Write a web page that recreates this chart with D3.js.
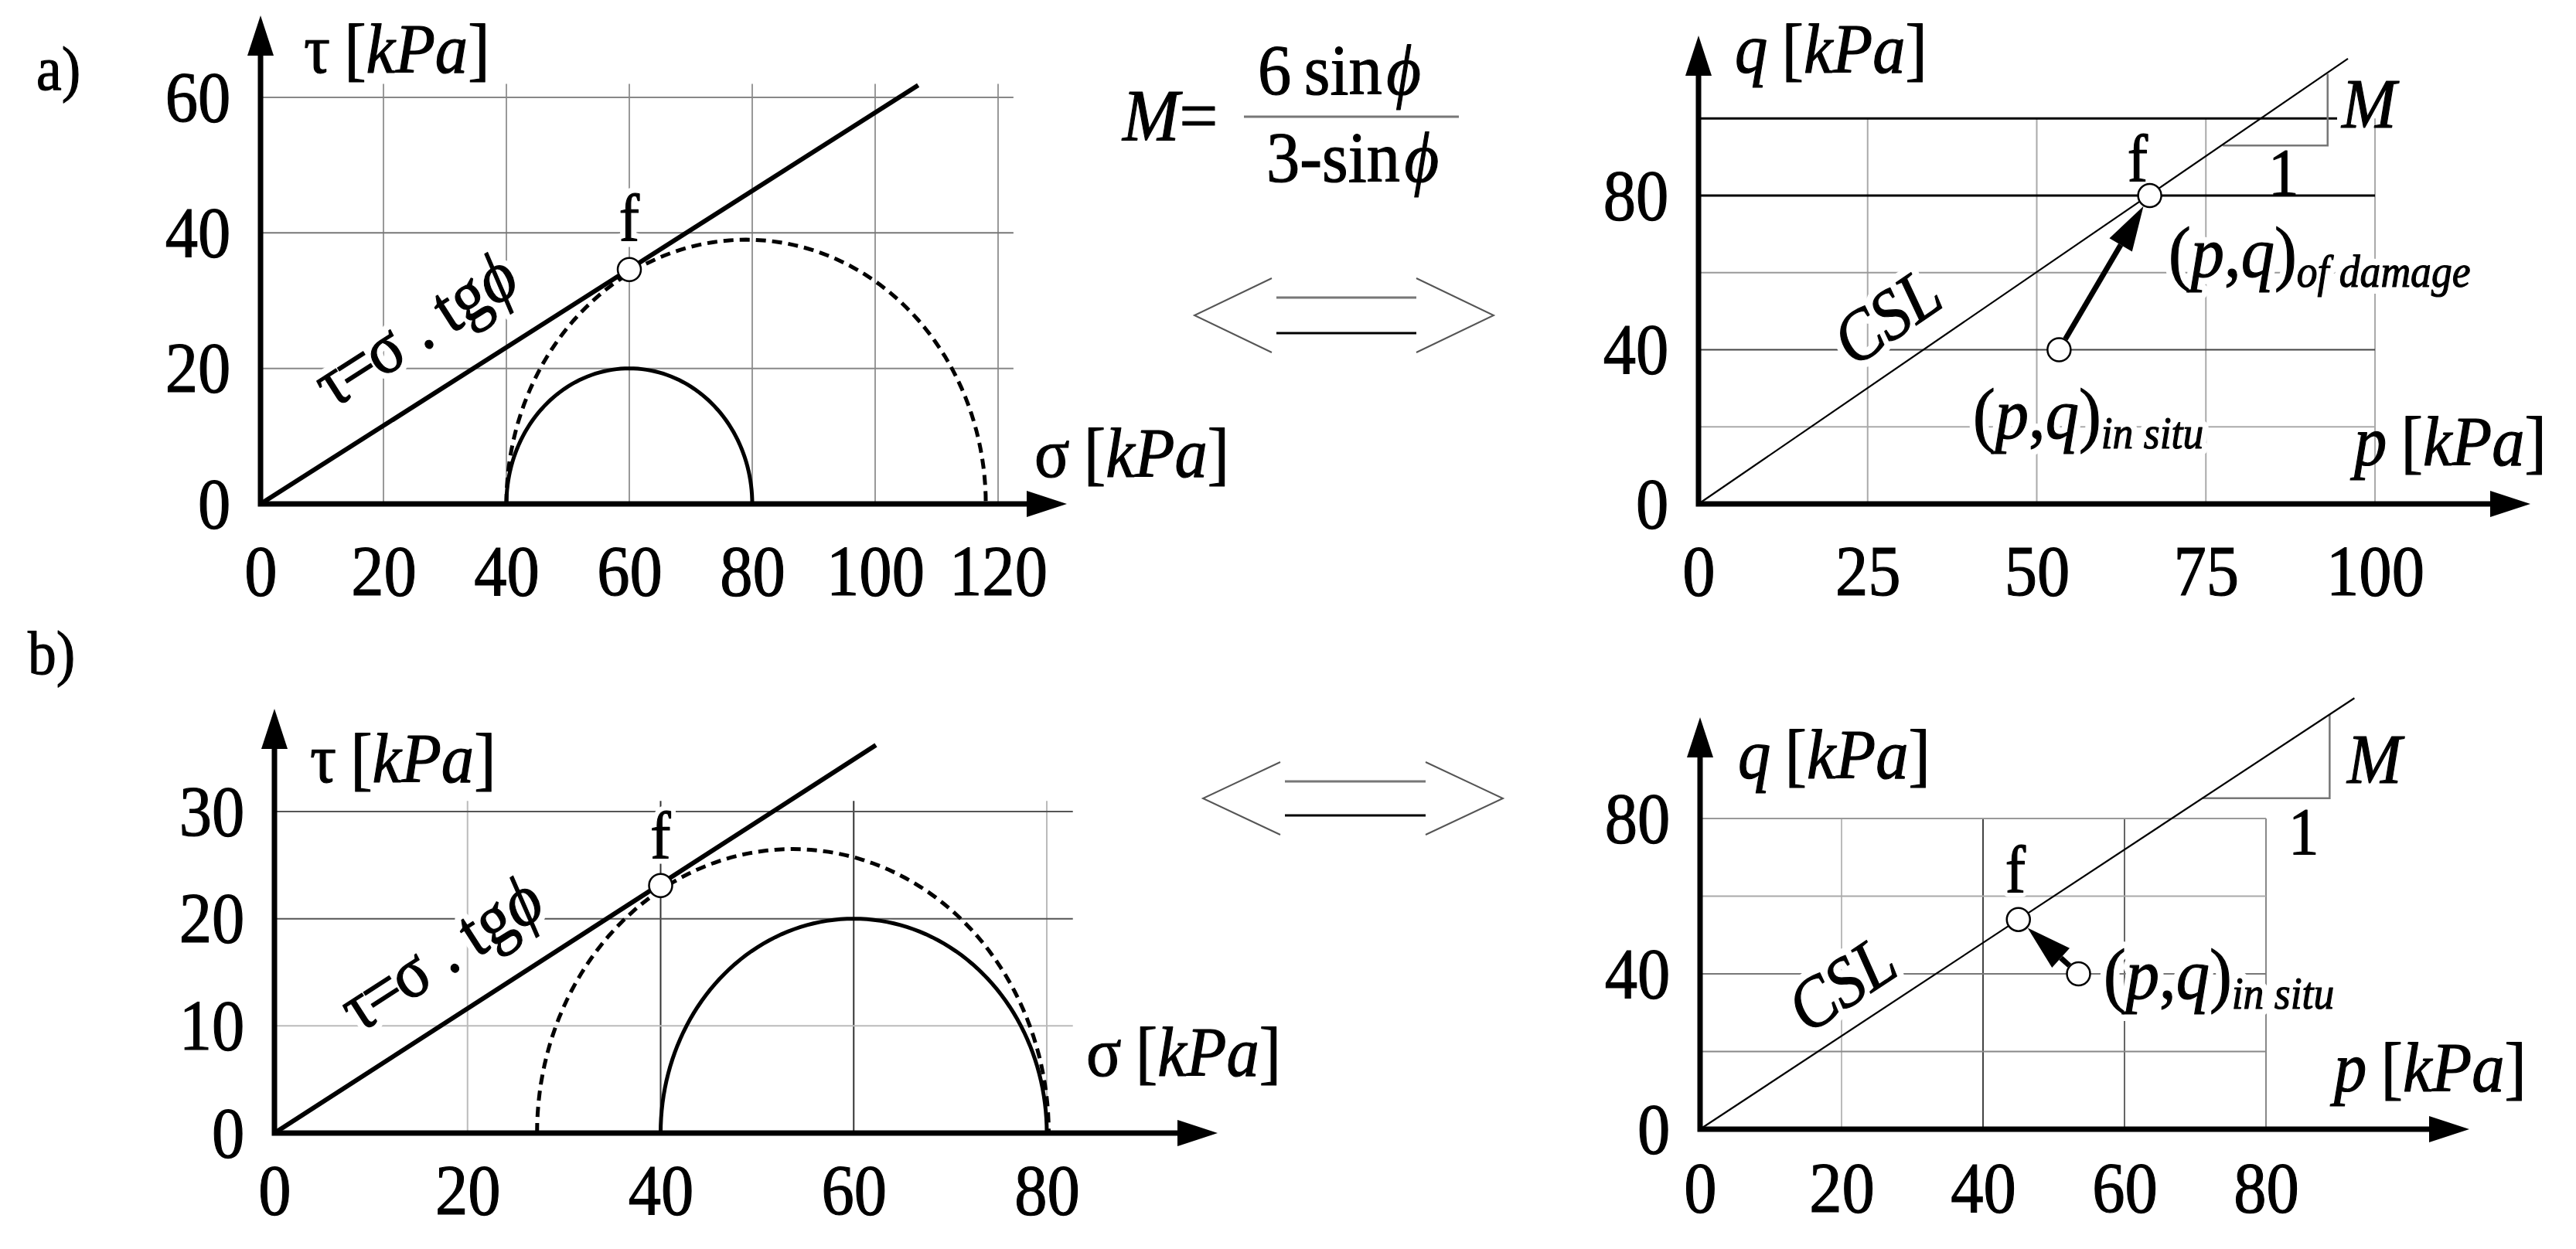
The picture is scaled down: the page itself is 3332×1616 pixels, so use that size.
<!DOCTYPE html>
<html>
<head>
<meta charset="utf-8">
<script src="https://cdn.jsdelivr.net/npm/d3@7"></script>
<style>
  body { margin: 0; background: #fff; }
  svg { display: block; font-family: "Liberation Serif", "Times New Roman", serif; }
</style>
</head>
<body>
<script>
const width = 3332;
const height = 1616;
const serif = "Liberation Serif";

// ---- a) Mohr plane
const sigmaTicksA = [0, 20, 40, 60, 80, 100, 120];
const tauTicksA = [0, 20, 40, 60];
const sigmaGridA = [20, 40, 60, 80, 100, 120];
const tauGridA = [20, 40, 60];
const envelopeA = [[0, 0], [107, 61.8]];
const circlesA = [
  { s3: 40, s1: 80, dashed: false },
  { s3: 40, s1: 118, dashed: true },
];
const failA = [60, 34.6];

// ---- a) p-q plane
const pTicksA = [0, 25, 50, 75, 100];
const qTicksA = [0, 40, 80];
const pGridA = [25, 50, 75, 100];
const qGridA = [20, 40, 60, 80, 100];
const cslA = [[0, 0], [96, 115.5]];
const pathA = [[53.3, 40], [66.7, 80]]; // in situ -> damage
const triA = [[77.5, 93], [93, 93], [93, 111.6]];

// ---- b) Mohr plane
const sigmaTicksB = [0, 20, 40, 60, 80];
const tauTicksB = [0, 10, 20, 30];
const sigmaGridB = [20, 40, 60, 80];
const tauGridB = [10, 20, 30];
const envelopeB = [[0, 0], [62.3, 36.2]];
const circlesB = [
  { s3: 40, s1: 80, dashed: false },
  { s3: 27.2, s1: 80.2, dashed: true },
];
const failB = [40, 23.1];

// ---- b) p-q plane
const pTicksB = [0, 20, 40, 60, 80];
const qTicksB = [0, 40, 80];
const pGridB = [20, 40, 60, 80];
const qGridB = [20, 40, 60, 80];
const cslB = [[0, 0], [92.5, 111]];
const pathB = [[53.5, 40], [45, 54]];
const triB = [[71, 85.2], [89, 85.2], [89, 106.8]];

let svg = d3
  .select("body")
  .append("svg")
  .attr("width", width)
  .attr("height", height);

svg.append("rect").attr("width", width).attr("height", height).attr("fill", "#fff");

// scales
let xA = d3.scaleLinear().domain([0, 120]).range([337, 1291]);
let yA = d3.scaleLinear().domain([0, 60]).range([652, 126]);
let pA = d3.scaleLinear().domain([0, 100]).range([2197, 3072]);
let qA = d3.scaleLinear().domain([0, 80]).range([652, 253]);
let xB = d3.scaleLinear().domain([0, 80]).range([355, 1354]);
let yB = d3.scaleLinear().domain([0, 30]).range([1466, 1050]);
let pB = d3.scaleLinear().domain([0, 80]).range([2199, 2931]);
let qB = d3.scaleLinear().domain([0, 80]).range([1461, 1059]);

// text made of styled parts; a white halo copy goes underneath when asked
function txt(g, x, y, size, parts, o = {}) {
  let make = (halo) => {
    let t = g
      .append("text")
      .attr("transform", `translate(${x},${y}) rotate(${o.rot || 0}) scale(${o.sx || 0.92},1)`)
      .attr("font-family", serif)
      .attr("font-size", size)
      .attr("text-anchor", o.anchor || "start")
      .attr("fill", halo ? "#fff" : "#000")
      .attr("stroke", halo ? "#fff" : "#000")
      .attr("stroke-width", halo ? halo : 1.2)
      .attr("stroke-linejoin", "round");
    parts.forEach(([s, st, dx]) => {
      let ts = t.append("tspan").text(s);
      if (st && st.includes("i")) ts.attr("font-style", "italic");
      if (st && st.includes("s")) ts.attr("font-size", size * 0.62).attr("dy", size * 0.14);
      if (dx) ts.attr("dx", dx);
    });
    return t;
  };
  if (o.halo) make(o.halo);
  return make(0);
}

function grid(g, x, y, xs, ys, xEnd, yEnd, xTones, yTones) {
  g.append("g")
    .selectAll("line")
    .data(xs)
    .join("line")
    .attr("x1", (d) => x(d))
    .attr("x2", (d) => x(d))
    .attr("y1", y(0))
    .attr("y2", y(yEnd))
    .attr("stroke", (d, i) => xTones[i])
    .attr("stroke-width", 2);
  g.append("g")
    .selectAll("line")
    .data(ys)
    .join("line")
    .attr("x1", x(0))
    .attr("x2", (d, i) => x(Array.isArray(xEnd) ? xEnd[i] : xEnd))
    .attr("y1", (d) => y(d))
    .attr("y2", (d) => y(d))
    .attr("stroke", (d, i) => yTones[i])
    .attr("stroke-width", (d, i) => (yTones[i] === "#000" ? 3 : 2));
}

function axes(g, x, y, xTip, yTip, xt, yt, pad) {
  let x0 = x(0), y0 = y(0), L = 52, w = 17;
  g.append("path")
    .attr("d", `M${x0},${yTip + L}V${y0}H${xTip - L}`)
    .attr("fill", "none")
    .attr("stroke", "#000")
    .attr("stroke-width", 7)
    .attr("stroke-linejoin", "miter");
  g.append("path")
    .attr("d", `M${xTip},${y0}L${xTip - L},${y0 - w}L${xTip - L},${y0 + w}Z`)
    .attr("fill", "#000");
  g.append("path")
    .attr("d", `M${x0},${yTip}L${x0 - w},${yTip + L}L${x0 + w},${yTip + L}Z`)
    .attr("fill", "#000");

  let bottom = g
    .append("g")
    .attr("transform", `translate(0,${y0})`)
    .call(d3.axisBottom(x).tickValues(xt).tickSize(0).tickPadding(pad).tickFormat(d3.format("d")));
  let left = g
    .append("g")
    .attr("transform", `translate(${x0},0)`)
    .call(d3.axisLeft(y).tickValues(yt).tickSize(0).tickPadding(43).tickFormat(d3.format("d")));
  [bottom, left].forEach((a) => {
    a.select(".domain").remove();
    a.attr("font-size", 94).attr("font-family", serif);
    a.selectAll("text")
      .attr("fill", "#000")
      .attr("stroke", "#000")
      .attr("stroke-width", 1.2)
      .attr("transform", "scale(0.9,1)");
  });
}

function mohr(g, x, y, circles) {
  let line = d3.line().x((d) => x(d[0])).y((d) => y(d[1]));
  circles.forEach((c) => {
    let m = (c.s1 + c.s3) / 2, r = (c.s1 - c.s3) / 2;
    let pts = d3.range(0, 181, 2).map((a) => {
      let t = (a * Math.PI) / 180;
      return [m - r * Math.cos(t), r * Math.sin(t)];
    });
    g.append("path")
      .attr("d", line(pts))
      .attr("fill", "none")
      .attr("stroke", "#000")
      .attr("stroke-width", 5)
      .attr("stroke-dasharray", c.dashed ? "13,8" : null);
  });
}

function straight(g, x, y, pts, w) {
  g.append("path")
    .attr("d", d3.line().x((d) => x(d[0])).y((d) => y(d[1]))(pts))
    .attr("fill", "none")
    .attr("stroke", "#000")
    .attr("stroke-width", w);
}

function point(g, x, y, p) {
  g.append("circle")
    .attr("cx", x(p[0]))
    .attr("cy", y(p[1]))
    .attr("r", 15)
    .attr("fill", "#fff")
    .attr("stroke", "#000")
    .attr("stroke-width", 2.5);
}

function stressPath(g, x, y, pts) {
  let a = [x(pts[0][0]), y(pts[0][1])];
  let b = [x(pts[1][0]), y(pts[1][1])];
  let len = Math.hypot(b[0] - a[0], b[1] - a[1]);
  let ux = (b[0] - a[0]) / len, uy = (b[1] - a[1]) / len;
  let r = 16, L = 58, w = 17;
  let tip = [b[0] - ux * r, b[1] - uy * r];
  let base = [tip[0] - ux * L, tip[1] - uy * L];
  g.append("line")
    .attr("x1", a[0] + ux * r)
    .attr("y1", a[1] + uy * r)
    .attr("x2", base[0])
    .attr("y2", base[1])
    .attr("stroke", "#000")
    .attr("stroke-width", 7);
  g.append("path")
    .attr("d", `M${tip[0]},${tip[1]}L${base[0] - uy * w},${base[1] + ux * w}L${base[0] + uy * w},${base[1] - ux * w}Z`)
    .attr("fill", "#000");
}

function slopeTri(g, x, y, tri) {
  g.append("path")
    .attr("d", d3.line().x((d) => x(d[0])).y((d) => y(d[1]))(tri))
    .attr("fill", "none")
    .attr("stroke", "#777")
    .attr("stroke-width", 2.5);
}

function angleOf(x, y, pts) {
  return (Math.atan2(y(pts[1][1]) - y(pts[0][1]), x(pts[1][0]) - x(pts[0][0])) * 180) / Math.PI;
}

function doubleArrow(g, x1, x2, yc, h, gap) {
  let a = 100;
  g.append("path")
    .attr("d", `M${x1 + a},${yc - h}L${x1},${yc}L${x1 + a},${yc + h}M${x2 - a},${yc - h}L${x2},${yc}L${x2 - a},${yc + h}`)
    .attr("fill", "none")
    .attr("stroke", "#555")
    .attr("stroke-width", 2);
  g.append("line")
    .attr("x1", x1 + a + 6).attr("x2", x2 - a)
    .attr("y1", yc - gap).attr("y2", yc - gap)
    .attr("stroke", "#777").attr("stroke-width", 3);
  g.append("line")
    .attr("x1", x1 + a + 6).attr("x2", x2 - a)
    .attr("y1", yc + gap).attr("y2", yc + gap)
    .attr("stroke", "#000").attr("stroke-width", 3);
}

const tauLabel = [["τ"], ["=", null, -4], ["σ", null, -4], [".", null, 22], ["tg", null, 22], ["ϕ", "i"]];
const kpa = (sym, symStyle) => [[sym, symStyle], ["[", null, 20], ["kPa", "i"], ["]"]];
const pq = (sub) => [["("], ["p", "i"], [","], ["q", "i"], [")"], [sub, "is"]];

// ================= a) left: Mohr plane
let gA = svg.append("g");
grid(gA, xA, yA, sigmaGridA, tauGridA, 122.5, 62,
  sigmaGridA.map(() => "#999"), ["#888", "#777", "#888"]);
txt(gA, 430, 530, 92, tauLabel, { rot: angleOf(xA, yA, envelopeA), halo: 18 });
txt(gA, xA(failA[0]), 311, 86, [["f"]], { anchor: "middle", halo: 16 });
mohr(gA, xA, yA, circlesA);
straight(gA, xA, yA, envelopeA, 6);
axes(gA, xA, yA, 1380, 20, sigmaTicksA, tauTicksA, 51);
point(gA, xA, yA, failA);
txt(gA, 393, 94, 92, kpa("τ"));
txt(gA, 1338, 617, 92, kpa("σ"));
txt(svg, 47, 116, 80, [["a)"]]);

// formula for M
txt(svg, 1452, 182, 96, [["M", "i"], ["="]]);
svg.append("line")
  .attr("x1", 1609).attr("x2", 1887).attr("y1", 151).attr("y2", 151)
  .attr("stroke", "#777").attr("stroke-width", 3);
txt(svg, 1627, 122, 94, [["6"], ["sin", null, 18], ["ϕ", "i", 6]]);
txt(svg, 1638, 235, 94, [["3-sin"], ["ϕ", "i", 6]]);

doubleArrow(svg, 1545, 1932, 408, 48, 23);

// ================= a) right: p-q plane
let gC = svg.append("g");
grid(gC, pA, qA, pGridA, qGridA, [100, 100, 100, 100, 94.4], 100,
  pGridA.map(() => "#aaa"), ["#aaa", "#444", "#999", "#000", "#000"]);
txt(gC, 2458, 435, 92, [["CSL", "i"]], { anchor: "middle", rot: angleOf(pA, qA, cslA), halo: 20 });
txt(gC, 2805, 358, 94, pq("of damage"), { halo: 18 });
txt(gC, 2552, 567, 94, pq("in situ"), { halo: 18 });
txt(gC, 2765, 234, 86, [["f"]], { anchor: "middle", halo: 12 });
slopeTri(gC, pA, qA, triA);
straight(gC, pA, qA, cslA, 2.2);
axes(gC, pA, qA, 3273, 46, pTicksA, qTicksA, 51);
stressPath(gC, pA, qA, pathA);
pathA.forEach((p) => point(gC, pA, qA, p));
txt(gC, 3029, 165, 92, [["M", "i"]]);
txt(gC, 2934, 252, 86, [["1"]]);
txt(gC, 2244, 94, 92, kpa("q", "i"));
txt(gC, 3045, 602, 92, kpa("p", "i"));

// ================= b) left: Mohr plane
let gB = svg.append("g");
grid(gB, xB, yB, sigmaGridB, tauGridB, 82.7, 31,
  ["#bbb", "#333", "#333", "#bbb"], ["#bbb", "#555", "#555"]);
txt(gB, 464, 1338, 92, tauLabel, { rot: angleOf(xB, yB, envelopeB), halo: 18 });
txt(gB, xB(failB[0]), 1110, 86, [["f"]], { anchor: "middle", halo: 14 });
mohr(gB, xB, yB, circlesB);
straight(gB, xB, yB, envelopeB, 6);
axes(gB, xB, yB, 1575, 917, sigmaTicksB, tauTicksB, 38);
point(gB, xB, yB, failB);
txt(gB, 401, 1012, 92, kpa("τ"));
txt(gB, 1405, 1392, 92, kpa("σ"));
txt(svg, 36, 872, 80, [["b)"]]);

doubleArrow(svg, 1556, 1944, 1033, 47, 22);

// ================= b) right: p-q plane
let gD = svg.append("g");
grid(gD, pB, qB, pGridB, qGridB, 80, 80,
  ["#bbb", "#444", "#666", "#888"], ["#888", "#777", "#aaa", "#999"]);
txt(gD, 2399, 1299, 92, [["CSL", "i"]], { anchor: "middle", rot: angleOf(pB, qB, cslB), halo: 20 });
txt(gD, 2721, 1292, 94, pq("in situ"), { halo: 18 });
txt(gD, 2607, 1154, 86, [["f"]], { anchor: "middle", halo: 12 });
slopeTri(gD, pB, qB, triB);
straight(gD, pB, qB, cslB, 2.2);
axes(gD, pB, qB, 3194, 928, pTicksB, qTicksB, 40);
stressPath(gD, pB, qB, pathB);
pathB.forEach((p) => point(gD, pB, qB, p));
txt(gD, 3036, 1013, 92, [["M", "i"]]);
txt(gD, 2960, 1105, 86, [["1"]]);
txt(gD, 2248, 1007, 92, kpa("q", "i"));
txt(gD, 3019, 1412, 92, kpa("p", "i"));
</script>
</body>
</html>
